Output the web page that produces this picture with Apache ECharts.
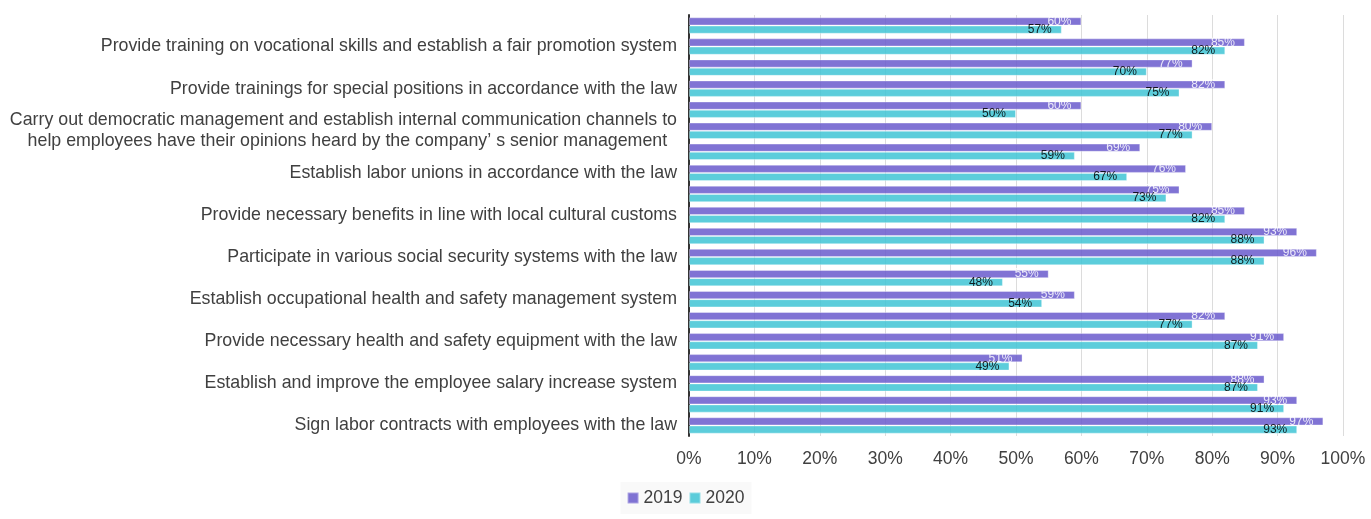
<!DOCTYPE html>
<html>
<head>
<meta charset="utf-8">
<title>Employee rights measures 2019 vs 2020</title>
<script src="https://cdn.jsdelivr.net/npm/echarts@6/dist/echarts.min.js"></script>
<style>
  html, body { margin: 0; padding: 0; background: #fff; }
  #main { width: 1371px; height: 519px; }
</style>
</head>
<body>
<div id="main"></div>
<script>
// categories listed bottom to top (ECharts category order); every other label is shown
var categories = [
  "Sign labor contracts with employees with the law",
  "Pay wages in full and on time",
  "Establish and improve the employee salary increase system",
  "Prohibit the use of child labor and forced labor",
  "Provide necessary health and safety equipment with the law",
  "Conduct regular occupational health examinations",
  "Establish occupational health and safety management system",
  "Provide paid annual leave",
  "Participate in various social security systems with the law",
  "Comply with working hours regulations",
  "Provide necessary benefits in line with local cultural customs",
  "Eliminate discrimination in employment",
  "Establish labor unions in accordance with the law",
  "Sign collective contracts",
  "Carry out democratic management and establish internal communication channels to\nhelp employees have their opinions heard by the company’ s senior management  ",
  "Provide employee assistance programs",
  "Provide trainings for special positions in accordance with the law",
  "Formulate employee training plans",
  "Provide training on vocational skills and establish a fair promotion system",
  "Protect employee privacy"
];

var values2019 = [97, 93, 88, 51, 91, 82, 59, 55, 96, 93, 85, 75, 76, 69, 80, 60, 82, 77, 85, 60];
var values2020 = [93, 91, 87, 49, 87, 77, 54, 48, 88, 88, 82, 73, 67, 59, 77, 50, 75, 70, 82, 57];

var xTicks = [0, 10, 20, 30, 40, 50, 60, 70, 80, 90, 100];

var fontFamily = "'Liberation Sans', Arial, sans-serif";
var textColor = "#404040";
var bigFont = 17.5;

var chartDom = document.getElementById("main");
var myChart = echarts.init(chartDom, null, { renderer: "canvas" });

var option = {
  animation: false,
  textStyle: { fontFamily: fontFamily },
  grid: {
    left: 689,
    right: 28,
    top: 15,
    bottom: 83,
    containLabel: false
  },
  legend: {
    data: ["2019", "2020"],
    left: "center",
    bottom: 5,
    icon: "rect",
    itemWidth: 11,
    itemHeight: 11,
    itemGap: 6,
    padding: [7, 7, 7, 6],
    backgroundColor: "#f9f9f9",
    textStyle: { fontSize: bigFont, color: textColor, fontFamily: fontFamily }
  },
  xAxis: {
    type: "value",
    min: xTicks[0],
    max: xTicks[xTicks.length - 1],
    interval: 10,
    axisLine: { show: false },
    axisTick: { show: false },
    splitLine: { show: true, lineStyle: { color: "#dcdcdc", width: 1 } },
    axisLabel: {
      margin: 14,
      fontSize: bigFont,
      color: textColor,
      fontFamily: fontFamily,
      formatter: "{value}%"
    }
  },
  yAxis: {
    type: "category",
    data: categories,
    axisTick: { show: false },
    axisLine: { show: true, lineStyle: { color: "#333", width: 2 } },
    splitLine: { show: false },
    axisLabel: {
      interval: 1,
      margin: 12,
      fontSize: 17.8,
      lineHeight: 21,
      color: textColor,
      fontFamily: fontFamily
    }
  },
  series: [
    {
      name: "2019",
      type: "bar",
      data: values2019,
      barGap: "0%",
      barCategoryGap: "22%",
      itemStyle: {
        color: "#6a5acd",
        opacity: 0.85,
        borderColor: "rgba(255,255,255,0.4)",
        borderWidth: 1
      },
      label: {
        show: true,
        position: "insideRight",
        distance: 10,
        formatter: "{c}%",
        color: "#ffffff",
        fontSize: 12,
        fontFamily: fontFamily
      }
    },
    {
      name: "2020",
      type: "bar",
      data: values2020,
      barGap: "0%",
      barCategoryGap: "22%",
      itemStyle: {
        color: "#3fc4d5",
        opacity: 0.85,
        borderColor: "rgba(255,255,255,0.4)",
        borderWidth: 1
      },
      label: {
        show: true,
        position: "insideRight",
        distance: 10,
        formatter: "{c}%",
        color: "#000000",
        fontSize: 12,
        fontFamily: fontFamily
      }
    }
  ]
};

myChart.setOption(option);

window.addEventListener("resize", function () {
  myChart.resize();
});
</script>
</body>
</html>
